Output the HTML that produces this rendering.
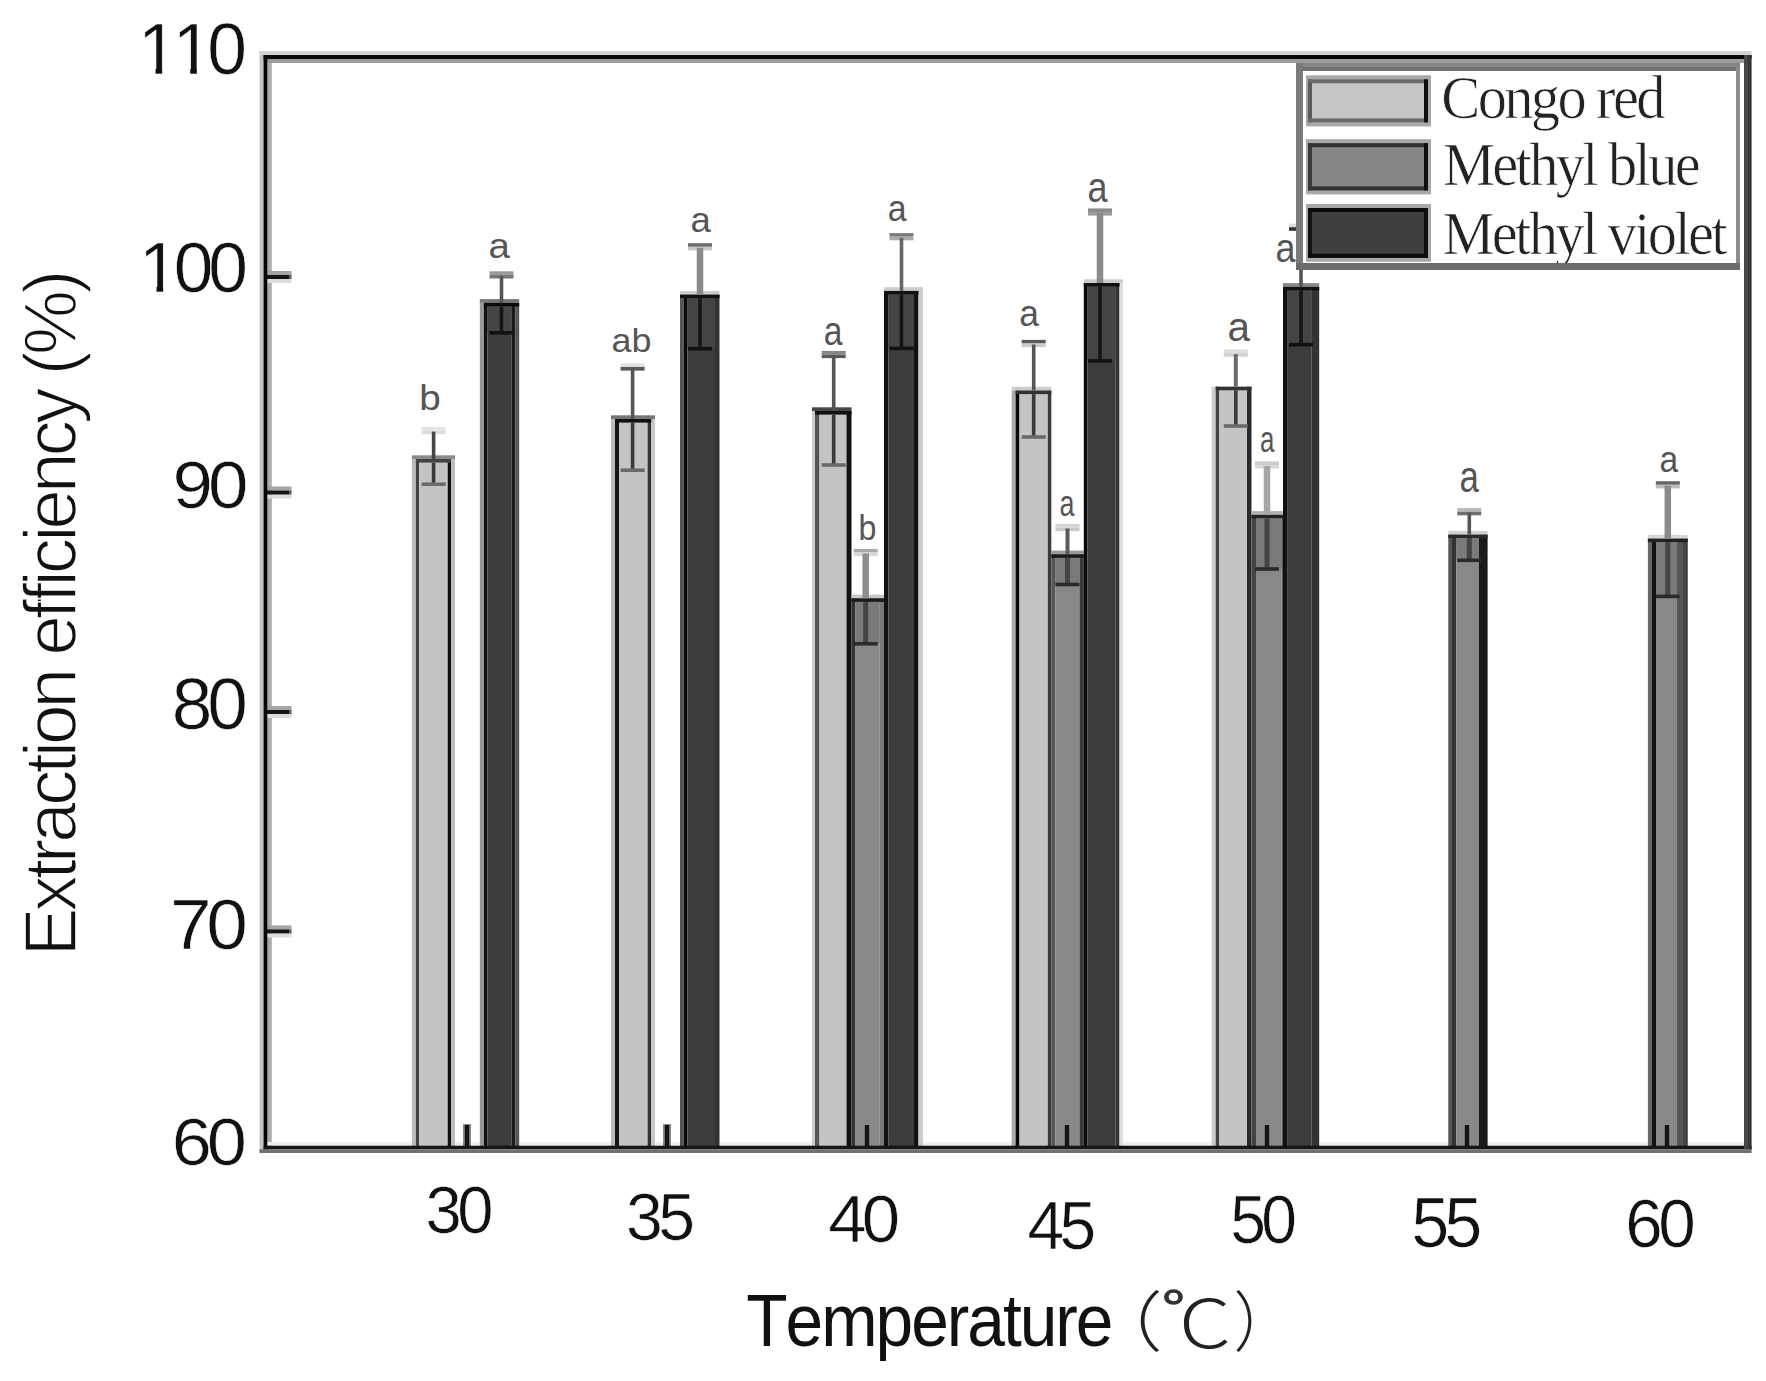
<!DOCTYPE html><html><head><meta charset="utf-8"><style>
html,body{margin:0;padding:0;background:#fff;overflow:hidden}
svg{display:block} text{font-kerning:none}
</style></head><body>
<svg width="1766" height="1381" viewBox="0 0 1766 1381">
<rect width="1766" height="1381" fill="#fff"/>
<rect x="259.50" y="51.00" width="12.10" height="1102.00" fill="#c4c4c4"/>
<rect x="267.30" y="51.00" width="4.30" height="1102.00" fill="#ababab"/>
<rect x="259.50" y="51.00" width="1492.10" height="4.00" fill="#d2d2d2"/>
<rect x="263.60" y="59.00" width="1480.40" height="4.00" fill="#9c9c9c"/>
<rect x="263.60" y="1142.00" width="1480.40" height="3.70" fill="#efefef"/>
<rect x="411.90" y="459.00" width="4.00" height="689.00" fill="#bbb"/>
<rect x="415.90" y="459.00" width="3.20" height="689.00" fill="#444"/>
<rect x="419.10" y="459.00" width="28.60" height="689.00" fill="#c4c4c6"/>
<rect x="447.70" y="459.00" width="3.30" height="689.00" fill="#111"/>
<rect x="451.00" y="459.00" width="4.00" height="689.00" fill="#bdbdbd"/>
<rect x="411.90" y="455.30" width="43.10" height="3.70" fill="#8a8a8a"/>
<rect x="415.90" y="459.00" width="35.10" height="3.60" fill="#444"/>
<rect x="479.80" y="302.80" width="4.10" height="845.20" fill="#999"/>
<rect x="483.90" y="302.80" width="3.50" height="845.20" fill="#111"/>
<rect x="487.40" y="302.80" width="24.30" height="845.20" fill="#3c3c3c"/>
<rect x="511.70" y="302.80" width="3.50" height="845.20" fill="#1a1a1a"/>
<rect x="515.20" y="302.80" width="4.00" height="845.20" fill="#555"/>
<rect x="479.80" y="299.10" width="39.40" height="3.70" fill="#777"/>
<rect x="483.90" y="302.80" width="35.30" height="3.60" fill="#0a0a0a"/>
<rect x="611.00" y="419.00" width="4.00" height="729.00" fill="#bbb"/>
<rect x="615.00" y="419.00" width="4.00" height="729.00" fill="#161616"/>
<rect x="619.00" y="419.00" width="28.60" height="729.00" fill="#c4c4c6"/>
<rect x="647.60" y="419.00" width="3.70" height="729.00" fill="#333"/>
<rect x="651.30" y="419.00" width="3.70" height="729.00" fill="#c8c8c8"/>
<rect x="611.00" y="415.30" width="44.00" height="3.70" fill="#777"/>
<rect x="615.00" y="419.00" width="36.30" height="3.60" fill="#111"/>
<rect x="680.00" y="294.60" width="3.70" height="853.40" fill="#555"/>
<rect x="683.70" y="294.60" width="3.70" height="853.40" fill="#0a0a0a"/>
<rect x="687.40" y="294.60" width="27.60" height="853.40" fill="#3c3c3c"/>
<rect x="715.00" y="294.60" width="4.50" height="853.40" fill="#333"/>
<rect x="680.00" y="290.90" width="39.50" height="3.70" fill="#ccc"/>
<rect x="680.00" y="294.60" width="39.50" height="3.60" fill="#111"/>
<rect x="812.00" y="411.00" width="3.00" height="737.00" fill="#ccc"/>
<rect x="815.00" y="411.00" width="4.50" height="737.00" fill="#555"/>
<rect x="819.50" y="411.00" width="27.00" height="737.00" fill="#c4c4c6"/>
<rect x="846.50" y="411.00" width="5.00" height="737.00" fill="#111"/>
<rect x="812.00" y="407.30" width="39.50" height="3.70" fill="#474747"/>
<rect x="815.00" y="411.00" width="36.50" height="3.60" fill="#111"/>
<rect x="851.50" y="598.30" width="4.00" height="549.70" fill="#333"/>
<rect x="855.50" y="598.30" width="24.00" height="549.70" fill="#888888"/>
<rect x="879.50" y="598.30" width="4.50" height="549.70" fill="#777"/>
<rect x="851.50" y="594.60" width="32.50" height="3.70" fill="#c8c8c8"/>
<rect x="851.50" y="598.30" width="32.50" height="3.60" fill="#1a1a1a"/>
<rect x="884.00" y="290.90" width="4.50" height="857.10" fill="#111"/>
<rect x="888.50" y="290.90" width="25.50" height="857.10" fill="#3c3c3c"/>
<rect x="914.00" y="290.90" width="4.50" height="857.10" fill="#111"/>
<rect x="918.50" y="290.90" width="4.50" height="857.10" fill="#ccc"/>
<rect x="884.00" y="287.20" width="39.00" height="3.70" fill="#ccc"/>
<rect x="884.00" y="290.90" width="34.50" height="3.60" fill="#111"/>
<rect x="1011.70" y="390.50" width="3.90" height="757.50" fill="#aaa"/>
<rect x="1015.60" y="390.50" width="3.90" height="757.50" fill="#0a0a0a"/>
<rect x="1019.50" y="390.50" width="28.30" height="757.50" fill="#c4c4c6"/>
<rect x="1047.80" y="390.50" width="3.50" height="757.50" fill="#3a3a3a"/>
<rect x="1011.70" y="386.80" width="39.60" height="3.70" fill="#ccc"/>
<rect x="1015.60" y="390.50" width="35.70" height="3.60" fill="#333"/>
<rect x="1051.30" y="554.30" width="3.90" height="593.70" fill="#555"/>
<rect x="1055.20" y="554.30" width="24.30" height="593.70" fill="#888888"/>
<rect x="1079.50" y="554.30" width="4.30" height="593.70" fill="#3a3a3a"/>
<rect x="1051.30" y="550.60" width="32.50" height="3.70" fill="#999"/>
<rect x="1051.30" y="554.30" width="32.50" height="3.60" fill="#1a1a1a"/>
<rect x="1083.80" y="283.00" width="3.50" height="865.00" fill="#0a0a0a"/>
<rect x="1087.30" y="283.00" width="28.30" height="865.00" fill="#3c3c3c"/>
<rect x="1115.60" y="283.00" width="3.90" height="865.00" fill="#333"/>
<rect x="1119.50" y="283.00" width="3.50" height="865.00" fill="#ddd"/>
<rect x="1083.80" y="279.30" width="39.20" height="3.70" fill="#ccc"/>
<rect x="1083.80" y="283.00" width="35.70" height="3.60" fill="#111"/>
<rect x="1211.70" y="386.70" width="4.00" height="761.30" fill="#ccc"/>
<rect x="1215.70" y="386.70" width="3.30" height="761.30" fill="#444"/>
<rect x="1219.00" y="386.70" width="28.00" height="761.30" fill="#c4c4c6"/>
<rect x="1247.00" y="386.70" width="4.50" height="761.30" fill="#2a2a2a"/>
<rect x="1215.70" y="386.70" width="35.80" height="3.60" fill="#333"/>
<rect x="1251.50" y="514.80" width="4.50" height="633.20" fill="#444"/>
<rect x="1256.00" y="514.80" width="25.70" height="633.20" fill="#888888"/>
<rect x="1281.70" y="514.80" width="1.30" height="633.20" fill="#555"/>
<rect x="1251.50" y="511.10" width="31.50" height="3.70" fill="#b0b0b0"/>
<rect x="1251.50" y="514.80" width="31.50" height="3.60" fill="#222"/>
<rect x="1283.00" y="286.80" width="4.70" height="861.20" fill="#111"/>
<rect x="1287.70" y="286.80" width="24.00" height="861.20" fill="#3c3c3c"/>
<rect x="1311.70" y="286.80" width="7.50" height="861.20" fill="#333"/>
<rect x="1283.00" y="283.10" width="36.20" height="3.70" fill="#888"/>
<rect x="1283.00" y="286.80" width="36.20" height="3.60" fill="#111"/>
<rect x="1448.30" y="534.60" width="3.70" height="613.40" fill="#555"/>
<rect x="1452.00" y="534.60" width="4.20" height="613.40" fill="#333"/>
<rect x="1456.20" y="534.60" width="22.70" height="613.40" fill="#888888"/>
<rect x="1478.90" y="534.60" width="8.70" height="613.40" fill="#1a1a1a"/>
<rect x="1448.30" y="530.90" width="39.30" height="3.70" fill="#d0d0d0"/>
<rect x="1448.30" y="534.60" width="39.30" height="3.60" fill="#2a2a2a"/>
<rect x="1647.90" y="538.60" width="4.10" height="609.40" fill="#666"/>
<rect x="1652.00" y="538.60" width="4.00" height="609.40" fill="#111"/>
<rect x="1656.00" y="538.60" width="21.00" height="609.40" fill="#888888"/>
<rect x="1677.00" y="538.60" width="6.00" height="609.40" fill="#555"/>
<rect x="1683.00" y="538.60" width="4.80" height="609.40" fill="#444"/>
<rect x="1647.90" y="534.90" width="39.90" height="3.70" fill="#d8d8d8"/>
<rect x="1647.90" y="538.60" width="39.90" height="3.60" fill="#222"/>
<rect x="421.60" y="427.00" width="24.00" height="3.60" fill="#e4e4e4"/>
<rect x="421.60" y="430.60" width="24.00" height="3.60" fill="#dcdcdc"/>
<rect x="431.80" y="431.60" width="3.60" height="27.40" fill="#454545"/>
<rect x="431.80" y="462.60" width="3.60" height="21.60" fill="#3a3a3a"/>
<rect x="421.60" y="482.40" width="24.00" height="3.60" fill="#6a6a6a"/>
<rect x="489.50" y="271.30" width="24.00" height="3.60" fill="#9a9a9a"/>
<rect x="489.50" y="274.90" width="24.00" height="3.60" fill="#777"/>
<rect x="499.70" y="275.90" width="3.60" height="26.90" fill="#555"/>
<rect x="487.40" y="306.40" width="24.30" height="26.40" fill="#454545"/>
<rect x="499.70" y="306.40" width="3.60" height="26.40" fill="#161616"/>
<rect x="489.50" y="331.00" width="24.00" height="3.60" fill="#111"/>
<rect x="620.60" y="363.40" width="24.00" height="3.60" fill="#dddddd"/>
<rect x="620.60" y="367.00" width="24.00" height="3.60" fill="#585858"/>
<rect x="630.80" y="368.00" width="3.60" height="51.00" fill="#555"/>
<rect x="630.80" y="422.60" width="3.60" height="47.60" fill="#3a3a3a"/>
<rect x="620.60" y="468.40" width="24.00" height="3.60" fill="#6a6a6a"/>
<rect x="688.00" y="243.20" width="24.00" height="3.60" fill="#6a6a6a"/>
<rect x="688.00" y="246.80" width="24.00" height="3.60" fill="#c8c8c8"/>
<rect x="696.75" y="247.80" width="6.50" height="46.80" fill="#8a8a8a"/>
<rect x="687.40" y="298.20" width="27.60" height="50.50" fill="#454545"/>
<rect x="698.20" y="298.20" width="3.60" height="50.50" fill="#161616"/>
<rect x="688.00" y="346.90" width="24.00" height="3.60" fill="#111"/>
<rect x="821.70" y="350.90" width="24.00" height="3.60" fill="#888"/>
<rect x="821.70" y="354.50" width="24.00" height="3.60" fill="#5a5a5a"/>
<rect x="831.90" y="355.50" width="3.60" height="55.50" fill="#555"/>
<rect x="831.90" y="414.60" width="3.60" height="50.40" fill="#3a3a3a"/>
<rect x="821.70" y="463.20" width="24.00" height="3.60" fill="#6a6a6a"/>
<rect x="853.70" y="548.90" width="24.00" height="3.60" fill="#aaaaaa"/>
<rect x="853.70" y="552.50" width="24.00" height="3.60" fill="#d8d8d8"/>
<rect x="862.45" y="553.50" width="6.50" height="44.80" fill="#8e8e8e"/>
<rect x="855.50" y="601.90" width="24.00" height="41.90" fill="#7a7a7a"/>
<rect x="863.20" y="601.90" width="5.00" height="41.90" fill="#444"/>
<rect x="853.70" y="642.00" width="24.00" height="3.60" fill="#2a2a2a"/>
<rect x="889.50" y="233.10" width="24.00" height="3.60" fill="#7a7a7a"/>
<rect x="889.50" y="236.70" width="24.00" height="3.60" fill="#aaaaaa"/>
<rect x="899.70" y="237.70" width="3.60" height="53.20" fill="#666"/>
<rect x="888.50" y="294.50" width="25.50" height="53.90" fill="#454545"/>
<rect x="899.70" y="294.50" width="3.60" height="53.90" fill="#161616"/>
<rect x="889.50" y="346.60" width="24.00" height="3.60" fill="#111"/>
<rect x="1021.70" y="339.90" width="24.00" height="3.60" fill="#5a5a5a"/>
<rect x="1021.70" y="343.50" width="24.00" height="3.60" fill="#cccccc"/>
<rect x="1031.90" y="344.50" width="3.60" height="46.00" fill="#555"/>
<rect x="1031.90" y="394.10" width="3.60" height="42.90" fill="#3a3a3a"/>
<rect x="1021.70" y="435.20" width="24.00" height="3.60" fill="#6a6a6a"/>
<rect x="1055.50" y="523.90" width="24.00" height="3.60" fill="#d4d4d4"/>
<rect x="1055.50" y="527.50" width="24.00" height="3.60" fill="#c8c8c8"/>
<rect x="1065.50" y="528.50" width="4.00" height="25.80" fill="#5a5a5a"/>
<rect x="1055.20" y="557.90" width="24.30" height="26.60" fill="#7a7a7a"/>
<rect x="1065.00" y="557.90" width="5.00" height="26.60" fill="#444"/>
<rect x="1055.50" y="582.70" width="24.00" height="3.60" fill="#2a2a2a"/>
<rect x="1088.00" y="208.40" width="24.00" height="3.60" fill="#8a8a8a"/>
<rect x="1088.00" y="212.00" width="24.00" height="3.60" fill="#9a9a9a"/>
<rect x="1096.75" y="213.00" width="6.50" height="70.00" fill="#8a8a8a"/>
<rect x="1087.30" y="286.60" width="28.30" height="74.30" fill="#454545"/>
<rect x="1098.20" y="286.60" width="3.60" height="74.30" fill="#161616"/>
<rect x="1088.00" y="359.10" width="24.00" height="3.60" fill="#111"/>
<rect x="1223.80" y="349.50" width="24.00" height="3.60" fill="#dedede"/>
<rect x="1223.80" y="353.10" width="24.00" height="3.60" fill="#d0d0d0"/>
<rect x="1233.80" y="354.10" width="4.00" height="32.60" fill="#6a6a6a"/>
<rect x="1234.00" y="390.30" width="3.60" height="35.70" fill="#3a3a3a"/>
<rect x="1223.80" y="424.20" width="24.00" height="3.60" fill="#6a6a6a"/>
<rect x="1255.00" y="461.40" width="24.00" height="3.60" fill="#cccccc"/>
<rect x="1255.00" y="465.00" width="24.00" height="3.60" fill="#dadada"/>
<rect x="1263.75" y="466.00" width="6.50" height="48.80" fill="#a6a6a6"/>
<rect x="1256.00" y="518.40" width="25.70" height="50.60" fill="#7a7a7a"/>
<rect x="1264.50" y="518.40" width="5.00" height="50.60" fill="#444"/>
<rect x="1255.00" y="567.20" width="24.00" height="3.60" fill="#2a2a2a"/>
<rect x="1289.00" y="223.60" width="24.00" height="3.60" fill="#dddddd"/>
<rect x="1289.00" y="227.20" width="24.00" height="3.60" fill="#333"/>
<rect x="1299.20" y="228.20" width="3.60" height="58.60" fill="#555"/>
<rect x="1287.70" y="290.40" width="24.00" height="54.30" fill="#454545"/>
<rect x="1299.20" y="290.40" width="3.60" height="54.30" fill="#161616"/>
<rect x="1289.00" y="342.90" width="24.00" height="3.60" fill="#111"/>
<rect x="1457.30" y="508.10" width="24.00" height="3.60" fill="#b8b8b8"/>
<rect x="1457.30" y="511.70" width="24.00" height="3.60" fill="#6e6e6e"/>
<rect x="1467.50" y="512.70" width="3.60" height="21.90" fill="#555"/>
<rect x="1456.20" y="538.20" width="22.70" height="22.10" fill="#7a7a7a"/>
<rect x="1466.80" y="538.20" width="5.00" height="22.10" fill="#444"/>
<rect x="1457.30" y="558.50" width="24.00" height="3.60" fill="#2a2a2a"/>
<rect x="1655.80" y="481.20" width="24.00" height="3.60" fill="#666"/>
<rect x="1655.80" y="484.80" width="24.00" height="3.60" fill="#bbbbbb"/>
<rect x="1664.55" y="485.80" width="6.50" height="52.80" fill="#8a8a8a"/>
<rect x="1656.00" y="542.20" width="21.00" height="54.20" fill="#7a7a7a"/>
<rect x="1665.30" y="542.20" width="5.00" height="54.20" fill="#444"/>
<rect x="1655.80" y="594.60" width="24.00" height="3.60" fill="#2a2a2a"/>
<text transform="translate(419.28 410.00) scale(0.3867 0.3562)" font-size="100" style='font-family:"Liberation Sans",Arial,sans-serif' fill="#555">b</text>
<text transform="translate(488.46 257.64) scale(0.3846 0.3564)" font-size="100" style='font-family:"Liberation Sans",Arial,sans-serif' fill="#555">a</text>
<text transform="translate(611.56 351.68) scale(0.3592 0.3243)" font-size="100" style='font-family:"Liberation Sans",Arial,sans-serif' fill="#555">ab</text>
<text transform="translate(690.54 232.14) scale(0.3654 0.3600)" font-size="100" style='font-family:"Liberation Sans",Arial,sans-serif' fill="#555">a</text>
<text transform="translate(823.65 345.10) scale(0.3365 0.3982)" font-size="100" style='font-family:"Liberation Sans",Arial,sans-serif' fill="#555">a</text>
<text transform="translate(858.57 540.00) scale(0.3222 0.3425)" font-size="100" style='font-family:"Liberation Sans",Arial,sans-serif' fill="#555">b</text>
<text transform="translate(887.65 221.22) scale(0.3385 0.3782)" font-size="100" style='font-family:"Liberation Sans",Arial,sans-serif' fill="#555">a</text>
<text transform="translate(1019.18 326.02) scale(0.3538 0.3782)" font-size="100" style='font-family:"Liberation Sans",Arial,sans-serif' fill="#555">a</text>
<text transform="translate(1059.42 516.02) scale(0.2692 0.3782)" font-size="100" style='font-family:"Liberation Sans",Arial,sans-serif' fill="#555">a</text>
<text transform="translate(1087.56 202.08) scale(0.3596 0.4182)" font-size="100" style='font-family:"Liberation Sans",Arial,sans-serif' fill="#555">a</text>
<text transform="translate(1227.38 341.00) scale(0.4038 0.3982)" font-size="100" style='font-family:"Liberation Sans",Arial,sans-serif' fill="#555">a</text>
<text transform="translate(1259.96 451.64) scale(0.2596 0.3636)" font-size="100" style='font-family:"Liberation Sans",Arial,sans-serif' fill="#555">a</text>
<text transform="translate(1275.56 261.60) scale(0.3596 0.4000)" font-size="100" style='font-family:"Liberation Sans",Arial,sans-serif' fill="#555">a</text>
<text transform="translate(1459.51 492.15) scale(0.3481 0.4509)" font-size="100" style='font-family:"Liberation Sans",Arial,sans-serif' fill="#555">a</text>
<text transform="translate(1659.55 472.13) scale(0.3365 0.3727)" font-size="100" style='font-family:"Liberation Sans",Arial,sans-serif' fill="#555">a</text>
<rect x="463.00" y="1124.00" width="8.00" height="24.00" fill="#8a8a8a"/>
<rect x="464.80" y="1125.00" width="4.40" height="23.00" fill="#151515"/>
<rect x="663.00" y="1124.00" width="8.00" height="24.00" fill="#8a8a8a"/>
<rect x="664.80" y="1125.00" width="4.40" height="23.00" fill="#151515"/>
<rect x="863.00" y="1124.00" width="8.00" height="24.00" fill="#8a8a8a"/>
<rect x="864.80" y="1125.00" width="4.40" height="23.00" fill="#151515"/>
<rect x="1063.00" y="1124.00" width="8.00" height="24.00" fill="#8a8a8a"/>
<rect x="1064.80" y="1125.00" width="4.40" height="23.00" fill="#151515"/>
<rect x="1263.00" y="1124.00" width="8.00" height="24.00" fill="#8a8a8a"/>
<rect x="1264.80" y="1125.00" width="4.40" height="23.00" fill="#151515"/>
<rect x="1463.00" y="1124.00" width="8.00" height="24.00" fill="#8a8a8a"/>
<rect x="1464.80" y="1125.00" width="4.40" height="23.00" fill="#151515"/>
<rect x="1663.00" y="1124.00" width="8.00" height="24.00" fill="#8a8a8a"/>
<rect x="1664.80" y="1125.00" width="4.40" height="23.00" fill="#151515"/>
<rect x="267.00" y="271.00" width="24.50" height="4.00" fill="#a4a4a4"/>
<rect x="267.00" y="279.00" width="24.50" height="4.00" fill="#dcdcdc"/>
<rect x="267.00" y="275.00" width="22.50" height="4.00" fill="#141414"/>
<rect x="289.50" y="275.00" width="2.00" height="4.00" fill="#555"/>
<rect x="267.00" y="486.50" width="24.50" height="4.00" fill="#a4a4a4"/>
<rect x="267.00" y="494.50" width="24.50" height="4.00" fill="#dcdcdc"/>
<rect x="267.00" y="490.50" width="22.50" height="4.00" fill="#141414"/>
<rect x="289.50" y="490.50" width="2.00" height="4.00" fill="#555"/>
<rect x="267.00" y="706.00" width="24.50" height="4.00" fill="#a4a4a4"/>
<rect x="267.00" y="714.00" width="24.50" height="4.00" fill="#dcdcdc"/>
<rect x="267.00" y="710.00" width="22.50" height="4.00" fill="#141414"/>
<rect x="289.50" y="710.00" width="2.00" height="4.00" fill="#555"/>
<rect x="267.00" y="925.40" width="24.50" height="4.00" fill="#a4a4a4"/>
<rect x="267.00" y="933.40" width="24.50" height="4.00" fill="#dcdcdc"/>
<rect x="267.00" y="929.40" width="22.50" height="4.00" fill="#141414"/>
<rect x="289.50" y="929.40" width="2.00" height="4.00" fill="#555"/>
<rect x="263.60" y="55.00" width="3.70" height="1094.30" fill="#050505"/>
<rect x="263.60" y="55.00" width="1488.00" height="4.00" fill="#080808"/>
<rect x="263.60" y="1145.70" width="1488.00" height="3.60" fill="#161616"/>
<rect x="259.50" y="1149.30" width="1492.10" height="3.70" fill="#707070"/>
<rect x="1744.00" y="55.00" width="4.00" height="1094.30" fill="#464646"/>
<rect x="1748.00" y="55.00" width="3.60" height="1094.30" fill="#363636"/>
<rect x="1296.00" y="63.00" width="444.00" height="207.00" fill="#868686"/>
<rect x="1303.00" y="71.00" width="433.00" height="192.00" fill="#fff"/>
<rect x="1296.00" y="67.00" width="444.00" height="4.00" fill="#727272"/>
<rect x="1296.00" y="263.00" width="444.00" height="7.00" fill="#6c6c6c"/>
<rect x="1296.00" y="63.00" width="7.00" height="207.00" fill="#7a7a7a"/>
<rect x="1736.00" y="67.00" width="4.00" height="196.00" fill="#8c8c8c"/>
<rect x="1306.00" y="75.30" width="125.00" height="51.10" fill="#a8a8a8"/>
<rect x="1308.00" y="79.30" width="120.00" height="43.10" fill="#c6c6c8"/>
<rect x="1308.00" y="79.30" width="4.00" height="43.10" fill="#5a5a5a"/>
<rect x="1308.00" y="79.30" width="120.00" height="4.00" fill="#6a6a6a"/>
<rect x="1308.00" y="118.40" width="120.00" height="4.00" fill="#6a6a6a"/>
<rect x="1424.00" y="79.30" width="4.00" height="43.10" fill="#111"/>
<rect x="1306.00" y="139.20" width="125.00" height="55.20" fill="#a8a8a8"/>
<rect x="1308.00" y="143.20" width="120.00" height="47.20" fill="#878787"/>
<rect x="1308.00" y="143.20" width="4.00" height="47.20" fill="#3a3a3a"/>
<rect x="1308.00" y="143.20" width="120.00" height="4.00" fill="#333"/>
<rect x="1308.00" y="186.40" width="120.00" height="4.00" fill="#333"/>
<rect x="1424.00" y="143.20" width="4.00" height="47.20" fill="#111"/>
<rect x="1306.00" y="204.00" width="125.00" height="57.80" fill="#a8a8a8"/>
<rect x="1308.00" y="208.00" width="120.00" height="49.80" fill="#3f3f3f"/>
<rect x="1308.00" y="208.00" width="4.00" height="49.80" fill="#111"/>
<rect x="1308.00" y="208.00" width="120.00" height="4.00" fill="#0a0a0a"/>
<rect x="1308.00" y="253.80" width="120.00" height="4.00" fill="#0a0a0a"/>
<rect x="1424.00" y="208.00" width="4.00" height="49.80" fill="#111"/>
<text transform="translate(1441.31 118.20) scale(0.5847 0.6022)" font-size="100" style='font-family:"Liberation Serif","Times New Roman",serif' fill="#222" letter-spacing="-4.5" stroke="#fff" stroke-width="0.7" vector-effect="non-scaling-stroke">Congo red</text>
<text transform="translate(1442.90 184.98) scale(0.5846 0.6033)" font-size="100" style='font-family:"Liberation Serif","Times New Roman",serif' fill="#222" letter-spacing="-4.5" stroke="#fff" stroke-width="0.7" vector-effect="non-scaling-stroke">Methyl blue</text>
<text transform="translate(1442.39 253.52) scale(0.5851 0.6111)" font-size="100" style='font-family:"Liberation Serif","Times New Roman",serif' fill="#222" letter-spacing="-4.5" stroke="#fff" stroke-width="0.7" vector-effect="non-scaling-stroke">Methyl violet</text>
<rect x="1296.00" y="263.00" width="444.00" height="7.00" fill="#6c6c6c"/>
<text transform="translate(137.99 74.07) scale(0.7135 0.7268)" font-size="100" style='font-family:"Liberation Sans",Arial,sans-serif' fill="#111" letter-spacing="-7" stroke="#fff" stroke-width="0.6" vector-effect="non-scaling-stroke">110</text>
<rect x="142.27" y="68.11" width="13.27" height="7.78" fill="#fff"/>
<rect x="162.18" y="68.11" width="12.56" height="7.78" fill="#fff"/>
<rect x="176.95" y="68.11" width="13.27" height="7.78" fill="#fff"/>
<rect x="196.85" y="68.11" width="12.56" height="7.78" fill="#fff"/>
<text transform="translate(138.99 291.60) scale(0.7135 0.6986)" font-size="100" style='font-family:"Liberation Sans",Arial,sans-serif' fill="#111" letter-spacing="-7" stroke="#fff" stroke-width="0.6" vector-effect="non-scaling-stroke">100</text>
<rect x="143.27" y="285.87" width="13.27" height="7.47" fill="#fff"/>
<rect x="163.18" y="285.87" width="12.56" height="7.47" fill="#fff"/>
<text transform="translate(172.56 508.13) scale(0.7274 0.6704)" font-size="100" style='font-family:"Liberation Sans",Arial,sans-serif' fill="#111" letter-spacing="-7" stroke="#fff" stroke-width="0.6" vector-effect="non-scaling-stroke">90</text>
<text transform="translate(171.78 729.07) scale(0.7302 0.7268)" font-size="100" style='font-family:"Liberation Sans",Arial,sans-serif' fill="#111" letter-spacing="-7" stroke="#fff" stroke-width="0.6" vector-effect="non-scaling-stroke">80</text>
<text transform="translate(169.96 948.59) scale(0.7484 0.7127)" font-size="100" style='font-family:"Liberation Sans",Arial,sans-serif' fill="#111" letter-spacing="-7" stroke="#fff" stroke-width="0.6" vector-effect="non-scaling-stroke">70</text>
<text transform="translate(171.69 1164.63) scale(0.7211 0.6704)" font-size="100" style='font-family:"Liberation Sans",Arial,sans-serif' fill="#111" letter-spacing="-7" stroke="#fff" stroke-width="0.6" vector-effect="non-scaling-stroke">60</text>
<text transform="translate(425.59 1232.64) scale(0.6521 0.6634)" font-size="100" style='font-family:"Liberation Sans",Arial,sans-serif' fill="#111" letter-spacing="-7" stroke="#fff" stroke-width="0.6" vector-effect="non-scaling-stroke">30</text>
<text transform="translate(626.05 1239.63) scale(0.6625 0.6704)" font-size="100" style='font-family:"Liberation Sans",Arial,sans-serif' fill="#111" letter-spacing="-7" stroke="#fff" stroke-width="0.6" vector-effect="non-scaling-stroke">35</text>
<text transform="translate(828.32 1241.64) scale(0.6898 0.6634)" font-size="100" style='font-family:"Liberation Sans",Arial,sans-serif' fill="#111" letter-spacing="-7" stroke="#fff" stroke-width="0.6" vector-effect="non-scaling-stroke">40</text>
<text transform="translate(1027.38 1248.62) scale(0.6592 0.6845)" font-size="100" style='font-family:"Liberation Sans",Arial,sans-serif' fill="#111" letter-spacing="-7" stroke="#fff" stroke-width="0.6" vector-effect="non-scaling-stroke">45</text>
<text transform="translate(1230.13 1242.62) scale(0.6417 0.6775)" font-size="100" style='font-family:"Liberation Sans",Arial,sans-serif' fill="#111" letter-spacing="-7" stroke="#fff" stroke-width="0.6" vector-effect="non-scaling-stroke">50</text>
<text transform="translate(1411.49 1246.59) scale(0.6781 0.7086)" font-size="100" style='font-family:"Liberation Sans",Arial,sans-serif' fill="#111" letter-spacing="-7" stroke="#fff" stroke-width="0.6" vector-effect="non-scaling-stroke">55</text>
<text transform="translate(1625.33 1246.62) scale(0.6747 0.6845)" font-size="100" style='font-family:"Liberation Sans",Arial,sans-serif' fill="#111" letter-spacing="-7" stroke="#fff" stroke-width="0.6" vector-effect="non-scaling-stroke">60</text>
<text transform="translate(746.25 1345.98) scale(0.6771 0.7389)" font-size="100" style='font-family:"Liberation Sans",Arial,sans-serif' fill="#111" letter-spacing="-3">Temperature</text>
<text transform="translate(1085.77 1346.11) scale(0.7708 0.6543)" font-size="100" font-weight="300" style='font-family:"Noto Sans CJK SC",sans-serif' fill="#222">（</text>
<text transform="translate(1162.02 1328.02) scale(0.6560 0.4963)" font-size="100" font-weight="300" style='font-family:"Noto Sans CJK SC",sans-serif' fill="#333" stroke="#333" stroke-width="1.8" vector-effect="non-scaling-stroke">°</text>
<text transform="translate(1179.04 1347.83) scale(0.8269 0.6733)" font-size="100" font-weight="300" style='font-family:"Noto Sans CJK SC",sans-serif' fill="#222">C</text>
<text transform="translate(1233.38 1346.11) scale(0.6250 0.6543)" font-size="100" font-weight="300" style='font-family:"Noto Sans CJK SC",sans-serif' fill="#222">）</text>
<text transform="translate(76.36 956.34) rotate(-90) scale(0.7300 0.7351)" font-size="100" style='font-family:"Liberation Sans",Arial,sans-serif' fill="#111" stroke="#fff" stroke-width="1.6" vector-effect="non-scaling-stroke" letter-spacing="-5.5">Extraction efficiency (%)</text>
</svg></body></html>
